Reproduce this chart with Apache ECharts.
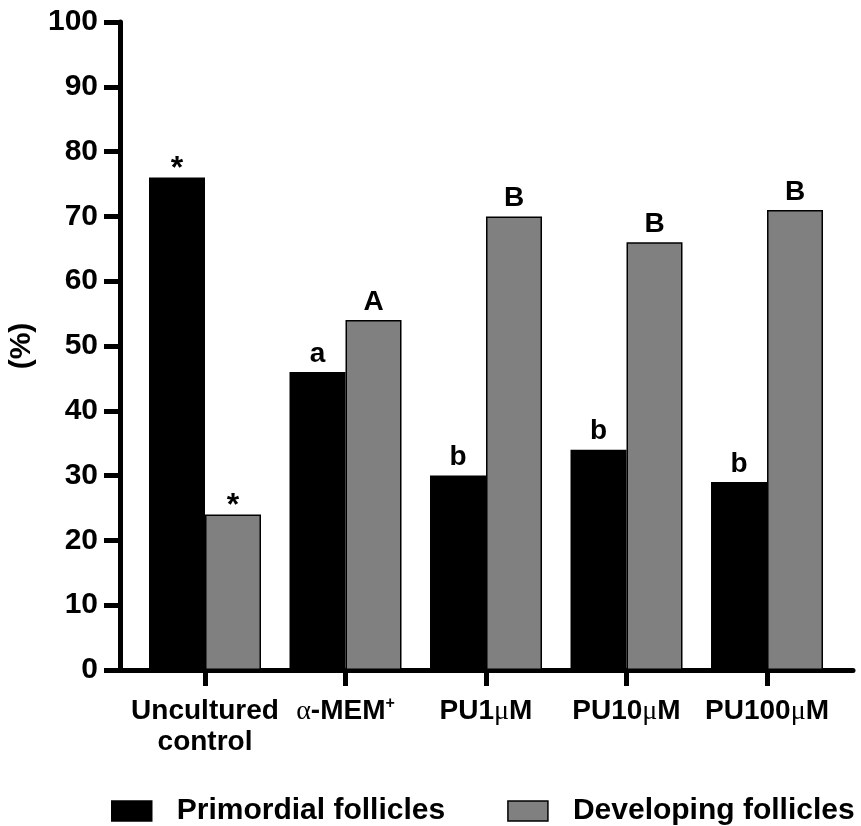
<!DOCTYPE html>
<html>
<head>
<meta charset="utf-8">
<script src="https://cdn.jsdelivr.net/npm/echarts@6/dist/echarts.min.js"></script>
<style>html,body{margin:0;padding:0;background:#fff;}#c{width:861px;height:826px;}</style>
</head>
<body>
<div id="c"></div>
<script>
const categories = ['Uncultured\ncontrol', 'α-MEM+', 'PU1μM', 'PU10μM', 'PU100μM'];
const seriesNames = ['Primordial follicles', 'Developing follicles'];
const primordial = [76, 46, 30, 34, 29];
const developing = [24, 54, 70, 66, 71];
const primordialMarks = ['*', 'a', 'b', 'b', 'b'];
const developingMarks = ['*', 'A', 'B', 'B', 'B'];
const yTicks = [0, 10, 20, 30, 40, 50, 60, 70, 80, 90, 100];

const FONT = 'Liberation Sans';

function richLabel(s) {
  let out = '';
  for (let i = 0; i < s.length; i++) {
    const ch = s[i];
    if (ch === 'α' || ch === 'μ') out += '{g|' + ch + '}';
    else if (ch === '+' && i === s.length - 1) out += '{sup|+}';
    else out += ch;
  }
  return out;
}

function makeData(values, marks) {
  return values.map((v, i) => {
    const item = { value: [i, v], mark: marks[i] };
    if (marks[i] === '*') item.label = { offset: [0, 12], fontSize: 32 };
    return item;
  });
}

const chart = echarts.init(document.getElementById('c'));
chart.setOption({
  animation: false,
  backgroundColor: '#fff',
  grid: { left: 120, right: 8, top: 22, bottom: 156, containLabel: false, outerBoundsMode: 'none' },
  xAxis: {
    type: 'value',
    min: -0.605,
    max: 4.612,
    splitLine: { show: false },
    axisLine: { show: true, onZero: false, lineStyle: { color: '#000', width: 5 } },
    axisTick: { show: true, length: 16, lineStyle: { color: '#000', width: 5 }, customValues: [0, 1, 2, 3, 4] },
    axisLabel: {
      customValues: [0, 1, 2, 3, 4],
      margin: 26,
      color: '#000',
      fontFamily: FONT,
      fontWeight: 'bold',
      fontSize: 28,
      lineHeight: 31,
      formatter: v => richLabel(categories[Math.round(v)] || ''),
      rich: {
        g: { fontFamily: 'Liberation Serif', fontWeight: 'normal', fontSize: 28, color: '#000', lineHeight: 31 },
        sup: { fontFamily: FONT, fontWeight: 'bold', fontSize: 16, color: '#000', verticalAlign: 'top', lineHeight: 31 }
      }
    }
  },
  yAxis: {
    type: 'value',
    min: yTicks[0],
    max: yTicks[yTicks.length - 1],
    interval: 10,
    name: '(%)',
    nameLocation: 'middle',
    nameGap: 76,
    nameRotate: 90,
    nameTextStyle: { color: '#000', fontFamily: FONT, fontWeight: 'bold', fontSize: 30 },
    splitLine: { show: false },
    axisLine: { show: true, onZero: false, lineStyle: { color: '#000', width: 5 } },
    axisTick: { show: true, length: 16, lineStyle: { color: '#000', width: 5 } },
    axisLabel: { color: '#000', fontFamily: FONT, fontWeight: 'bold', fontSize: 30, margin: 22 }
  },
  legend: {
    data: seriesNames,
    icon: 'rect',
    left: 106,
    top: 791,
    width: 760,
    itemWidth: 40,
    itemHeight: 20,
    itemGap: 62,
    itemStyle: { borderColor: '#000', borderWidth: 1.5 },
    textStyle: { color: '#000', fontFamily: FONT, fontWeight: 'bold', fontSize: 30, padding: [0, 0, 0, 20] }
  },
  series: [
    {
      name: seriesNames[0],
      type: 'bar',
      barWidth: 56,
      barGap: '0%',
      data: makeData(primordial, primordialMarks),
      itemStyle: { color: '#000', borderColor: '#000', borderWidth: 1.5 },
      label: {
        show: true, position: 'top', distance: 4, color: '#000',
        fontFamily: FONT, fontWeight: 'bold', fontSize: 28,
        formatter: p => p.data.mark
      }
    },
    {
      name: seriesNames[1],
      type: 'bar',
      barWidth: 56,
      barGap: '0%',
      data: makeData(developing, developingMarks),
      itemStyle: { color: '#808080', borderColor: '#000', borderWidth: 1.5 },
      label: {
        show: true, position: 'top', distance: 4, color: '#000',
        fontFamily: FONT, fontWeight: 'bold', fontSize: 28,
        formatter: p => p.data.mark
      }
    }
  ]
});
</script>
</body>
</html>
